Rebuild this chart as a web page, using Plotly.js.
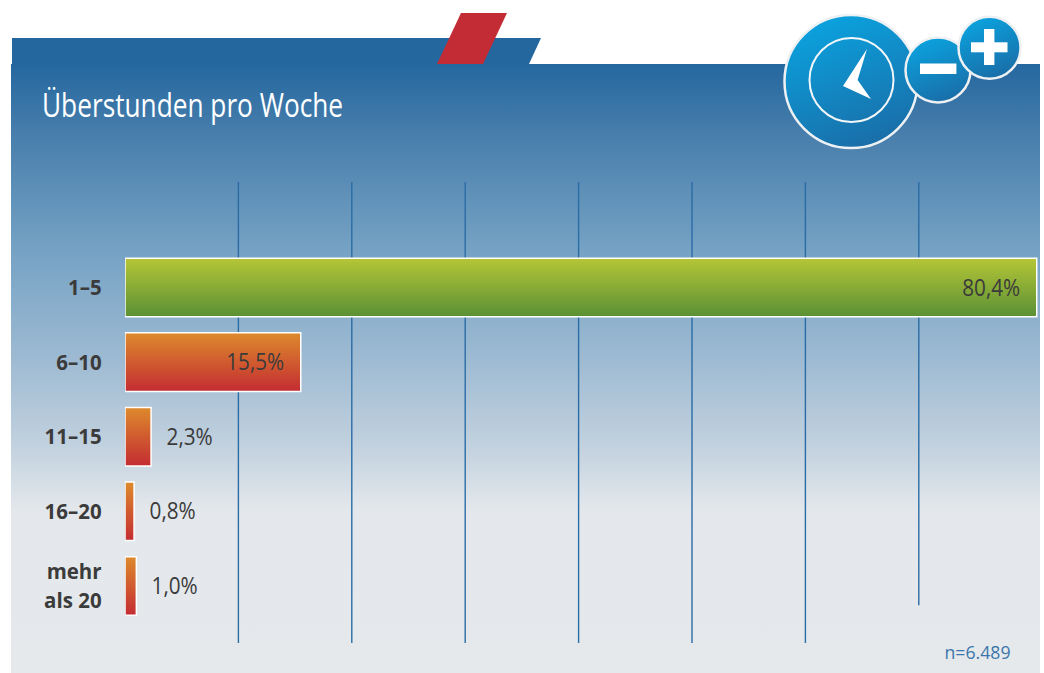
<!DOCTYPE html>
<html><head><meta charset="utf-8">
<script src="https://cdn.plot.ly/plotly-3.0.1.min.js"></script>
<style>
html,body{margin:0;padding:0;background:#fff;width:1044px;height:673px;overflow:hidden}
#bg{position:absolute;left:0;top:0}
#chart{position:absolute;left:0;top:0;width:1044px;height:673px}
</style></head><body>
<svg id="bg" width="1044" height="673" viewBox="0 0 1044 673">
<defs>
<linearGradient id="panel" gradientUnits="userSpaceOnUse" x1="0" y1="64" x2="0" y2="673">
<stop offset="0" stop-color="#24679f"/>
<stop offset="0.125" stop-color="#4a80ad"/>
<stop offset="0.305" stop-color="#75a2c4"/>
<stop offset="0.47" stop-color="#9ab8d1"/>
<stop offset="0.62" stop-color="#c0d0de"/>
<stop offset="0.735" stop-color="#e4e8ec"/>
<stop offset="1" stop-color="#e5e9ec"/>
</linearGradient>
<linearGradient id="disc" x1="0.3" y1="0" x2="0.7" y2="1">
<stop offset="0" stop-color="#0aa3df"/><stop offset="1" stop-color="#1a6ca6"/>
</linearGradient>
</defs>
<polygon points="12,38 541,38 529,64 12,64" fill="#24679f"/>
<rect x="11" y="64" width="1029" height="609" fill="url(#panel)"/>
<polygon points="461,13 507,13 483,64 437,64" fill="#c32b35"/>
<circle cx="851" cy="81.5" r="66.5" fill="url(#disc)" stroke="#eef1f3" stroke-width="2.5"/>
<circle cx="851.5" cy="80" r="42" fill="none" stroke="#f4f7f9" stroke-width="2"/>
<polygon points="867,49 857.6,80 871,99 843,86" fill="#fff"/>
<circle cx="938" cy="70" r="32.5" fill="url(#disc)" stroke="#eef1f3" stroke-width="2.5"/>
<rect x="920" y="63.5" width="36.4" height="10.5" fill="#fff"/>
<circle cx="989.5" cy="47.7" r="31" fill="url(#disc)" stroke="#eef1f3" stroke-width="2.5"/>
<rect x="971" y="42.3" width="36.5" height="10" fill="#fff"/>
<rect x="984" y="29" width="10.4" height="36" fill="#fff"/>
</svg>
<div id="chart"></div>
<script>
var categories = ['1–5', '6–10', '11–15', '16–20', 'mehr<br>als 20'];
var values = [80.4, 15.5, 2.3, 0.8, 1.0];
var valueLabels = ['80,4%', '15,5%', '2,3%', '0,8%', '1,0%'];
var gridValues = [10, 20, 30, 40, 50, 60, 70];
var titleText = 'Überstunden pro Woche';
var noteText = 'n=6.489';

var face = '"Open Sans",sans-serif';
var textColor = '#3b3b3b';
var pxPerUnit = 11.34;

var trace = {
  type: 'bar', orientation: 'h',
  y: [0, 1, 2, 3, 4], x: values, width: 0.785,
  marker: {
    color: ['#86a536', '#cf5f30', '#cf5f30', '#cf5f30', '#cf5f30'],
    line: {color: '#ffffff', width: 1.5}
  },
  cliponaxis: false, hoverinfo: 'skip'
};

var gridShapes = gridValues.map(function (v, i) {
  return {
    type: 'line', layer: 'below', xref: 'x', yref: 'paper',
    x0: v, x1: v, y0: i === gridValues.length - 1 ? 0.082 : 0, y1: 1,
    line: {color: '#2a6ca5', width: 1.4}
  };
});

var valueNotes = values.map(function (v, i) {
  var inside = v > 10;
  return {
    x: v, y: i, xref: 'x', yref: 'y', text: valueLabels[i], showarrow: false,
    xanchor: inside ? 'right' : 'left', xshift: inside ? -12 : 11, yshift: 1,
    font: {family: face, size: 23, color: textColor}
  };
});
var note = {
  x: (1014.5 - 125) / pxPerUnit, y: (643 - 652) / 461, xref: 'x', yref: 'paper', xanchor: 'right', yanchor: 'middle',
  text: noteText, showarrow: false, font: {family: face, size: 19, color: '#3a76ab'}
};
valueNotes.push(note);

var layout = {
  width: 1044, height: 673,
  margin: {l: 125, r: 2, t: 182, b: 30, pad: 0},
  paper_bgcolor: 'rgba(0,0,0,0)', plot_bgcolor: 'rgba(0,0,0,0)',
  showlegend: false,
  title: {
    text: titleText, x: 42 / 1044, xanchor: 'left', xref: 'container',
    y: 1 - 105 / 673, yanchor: 'middle', yref: 'container',
    font: {family: face, size: 33, color: '#ffffff'}
  },
  xaxis: {range: [0, 917 / pxPerUnit], showgrid: false, zeroline: false, showticklabels: false, ticks: '', showline: false, fixedrange: true},
  yaxis: {
    range: [4.765, -1.414], tickmode: 'array', tickvals: [0, 1, 2, 3, 4], ticktext: categories,
    showgrid: false, zeroline: false, showline: false, ticks: 'outside', ticklen: 18, tickcolor: 'rgba(0,0,0,0)', tickwidth: 0,
    tickfont: {family: face, size: 22, color: textColor, weight: 700}, fixedrange: true
  },
  shapes: gridShapes,
  annotations: valueNotes
};

function squeeze(node, factor) {
  var lines = node.querySelectorAll('tspan.line');
  var targets = lines.length ? Array.prototype.slice.call(lines) : [node];
  targets.forEach(function (t) {
    var len = t.getComputedTextLength();
    t.setAttribute('textLength', (len * factor).toFixed(1));
    t.setAttribute('lengthAdjust', 'spacingAndGlyphs');
  });
}

Plotly.newPlot('chart', [trace], layout, {displayModeBar: false, staticPlot: true}).then(function (gd) {
  var svg = gd.querySelector('svg.main-svg');
  var ns = 'http://www.w3.org/2000/svg';
  var defs = document.createElementNS(ns, 'defs');
  function grad(id, a, b) {
    var g = document.createElementNS(ns, 'linearGradient');
    g.setAttribute('id', id);
    g.setAttribute('x1', '0'); g.setAttribute('y1', '0'); g.setAttribute('x2', '0'); g.setAttribute('y2', '1');
    [[0, a], [1, b]].forEach(function (s) {
      var st = document.createElementNS(ns, 'stop');
      st.setAttribute('offset', s[0]); st.setAttribute('stop-color', s[1]);
      g.appendChild(st);
    });
    defs.appendChild(g);
  }
  grad('barGreen', '#b5c636', '#5a9035');
  grad('barRed', '#dd8a2c', '#c42c32');
  svg.insertBefore(defs, svg.firstChild);
  gd.querySelectorAll('.bars .point path').forEach(function (p, i) {
    p.style.fill = i === 0 ? 'url(#barGreen)' : 'url(#barRed)';
    p.style.fillOpacity = 1;
  });
  gd.querySelectorAll('.gtitle').forEach(function (t) { squeeze(t, 0.795); });
  gd.querySelectorAll('.ytick text').forEach(function (t) { squeeze(t, 0.93); });
  gd.querySelectorAll('.annotation-text').forEach(function (t) {
    squeeze(t, t.textContent === noteText ? 0.93 : 0.9);
  });
});
</script>
</body></html>
